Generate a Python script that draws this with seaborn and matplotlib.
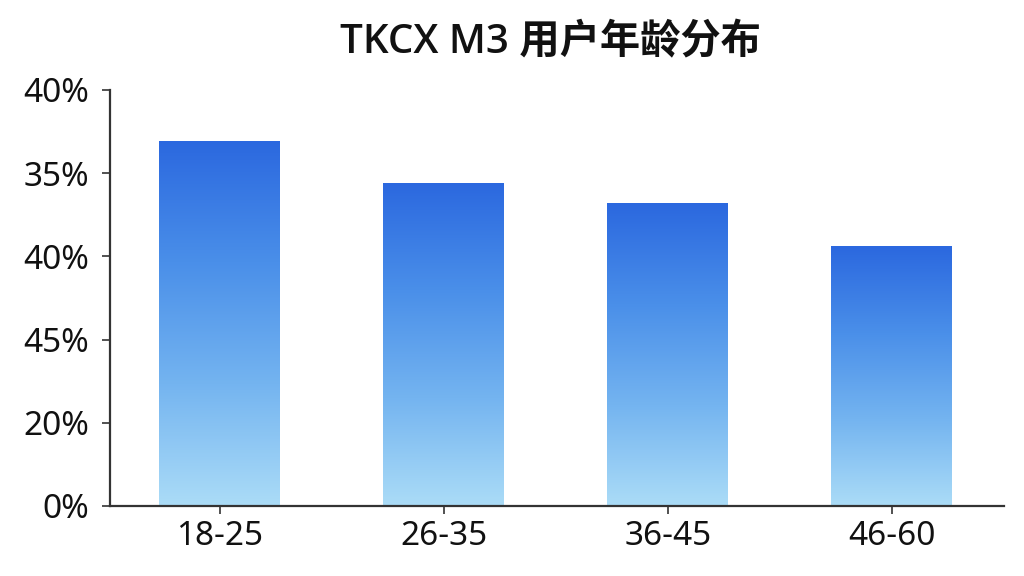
import numpy as np
import pandas as pd
import matplotlib
matplotlib.use("Agg")
import matplotlib.pyplot as plt
from matplotlib.colors import LinearSegmentedColormap
import seaborn as sns

# =============================
# Data
# =============================
TITLE = "TKCX M3 用户年龄分布"
age_groups = ["18-25", "26-35", "36-45", "46-60"]
share_pct = [35.1, 31.1, 29.1, 25.0]
y_ticks = [0, 8, 16, 24, 32, 40]
y_tick_labels = ["0%", "20%", "45%", "40%", "35%", "40%"]

df = pd.DataFrame({"age": age_groups, "share": share_pct})

# =============================
# Style
# =============================
sns.set_theme(style="white")
plt.rcParams["font.family"] = ["Noto Sans", "Noto Sans CJK SC", "DejaVu Sans"]

GRAD = LinearSegmentedColormap.from_list(
    "bar_grad", ["#abdcf7", "#74b4f0", "#4a8fe9", "#2b68df"])

fig = plt.figure(figsize=(10.24, 5.76), dpi=100)
ax = fig.add_axes([110 / 1024, 1 - 506 / 576, (1004 - 110) / 1024, (506 - 90) / 576])

sns.barplot(data=df, x="age", y="share", ax=ax, width=0.54,
            color="#4a90e8", edgecolor="none", linewidth=0)

# gradient fill, clipped to each bar
grad = np.linspace(0, 1, 256).reshape(-1, 1)
for p in ax.patches:
    x0, y0 = p.get_x(), p.get_y()
    w, h = p.get_width(), p.get_height()
    p.set_facecolor("none")
    im = ax.imshow(grad, cmap=GRAD, origin="lower", aspect="auto",
                   extent=[x0, x0 + w, y0, y0 + h], zorder=2)
    im.set_clip_path(p)

ax.set_xlim(-0.49, 3.5)
ax.set_ylim(0, 40)
ax.set_yticks(y_ticks)
ax.set_yticklabels(y_tick_labels)
ax.set_xlabel("")
ax.set_ylabel("")

for side in ["top", "right"]:
    ax.spines[side].set_visible(False)
for side in ["left", "bottom"]:
    ax.spines[side].set_color("#333333")
    ax.spines[side].set_linewidth(1.6)

ax.tick_params(axis="y", left=True, length=6, width=1.2, color="#333333",
               labelsize=24, pad=9, labelcolor="#111111")
ax.tick_params(axis="x", bottom=True, length=6, width=1.2, color="#333333",
               labelsize=24, pad=4, labelcolor="#111111")
ax.grid(False)

fig.text(550 / 1024, 1 - 43 / 576, TITLE, ha="center", va="center",
         fontsize=29, fontweight="semibold", color="#111111",
         family=["Open Sans", "Noto Sans CJK SC", "DejaVu Sans"])

fig.savefig("out.png", dpi=100, facecolor="white")
